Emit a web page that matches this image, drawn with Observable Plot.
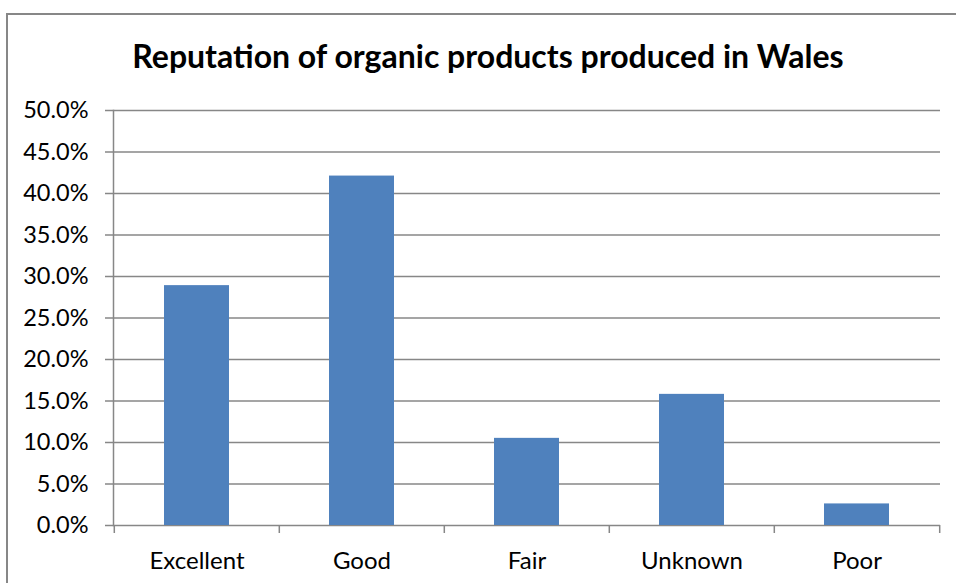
<!DOCTYPE html>
<html><head><meta charset="utf-8">
<script src="https://cdn.jsdelivr.net/npm/d3@7"></script>
<script src="https://cdn.jsdelivr.net/npm/@observablehq/plot@0.6"></script>
<style>
html,body{margin:0;padding:0;background:#fff;overflow:hidden;}
#wrap{position:relative;width:956px;height:583px;font-family:Lato,"Open Sans",sans-serif;}
#border{position:absolute;left:6px;top:13px;width:1000px;height:700px;border:2px solid #878787;box-sizing:border-box;}
#title{position:absolute;left:0;top:36px;width:976px;text-align:center;font-weight:bold;font-size:32px;color:#000;line-height:40px;}
#chart{position:absolute;left:0;top:90px;}
</style></head>
<body>
<div id="wrap"><div id="border"></div><div id="title">Reputation of organic products produced in Wales</div><div id="chart"></div></div>
<script>
const categories = ["Excellent", "Good", "Fair", "Unknown", "Poor"];
const values = [0.289, 0.421, 0.105, 0.158, 0.026];
const yTicks = [0, 0.05, 0.1, 0.15, 0.2, 0.25, 0.3, 0.35, 0.4, 0.45, 0.5];

const data = categories.map((c, i) => ({category: c, value: values[i]}));
const W = 956, H = 493, mL = 113, mR = 16;
const bw = (W - mL - mR) / categories.length;
const grey = "#878787";

const chart = Plot.plot({
  width: W, height: H,
  marginLeft: mL, marginRight: mR, marginTop: 20, marginBottom: 58,
  style: {fontFamily: "Lato, 'Open Sans', sans-serif", fontSize: "23px", color: "#000", background: "transparent", overflow: "visible"},
  x: {domain: categories, padding: 0, label: null},
  y: {domain: [0, 0.5], label: null},
  marks: [
    Plot.ruleY(yTicks, {stroke: grey, strokeWidth: 1.5}),
    Plot.barY(data, {x: "category", y: "value", fill: "#4F81BD", insetLeft: 50, insetRight: 50}),
    Plot.axisY({ticks: yTicks, tickFormat: d3.format(".1%"), tickSize: 8, tickPadding: 17, stroke: grey, strokeWidth: 1.5, strokeOpacity: 1, label: null, fontSize: 23.5}),
    Plot.frame({anchor: "left", stroke: grey, strokeWidth: 1.5}),
    Plot.axisX({ticks: categories, tickSize: 8, dx: -bw / 2, text: null, stroke: grey, strokeWidth: 1.5, strokeOpacity: 1, label: null}),
    Plot.axisX({ticks: [categories[categories.length - 1]], tickSize: 8, dx: bw / 2, text: null, stroke: grey, strokeWidth: 1.5, strokeOpacity: 1, label: null}),
    Plot.axisX({ticks: categories, tickSize: 0, tickPadding: 26, label: null, fontSize: 24})
  ]
});
document.getElementById("chart").appendChild(chart);
</script>
</body></html>
